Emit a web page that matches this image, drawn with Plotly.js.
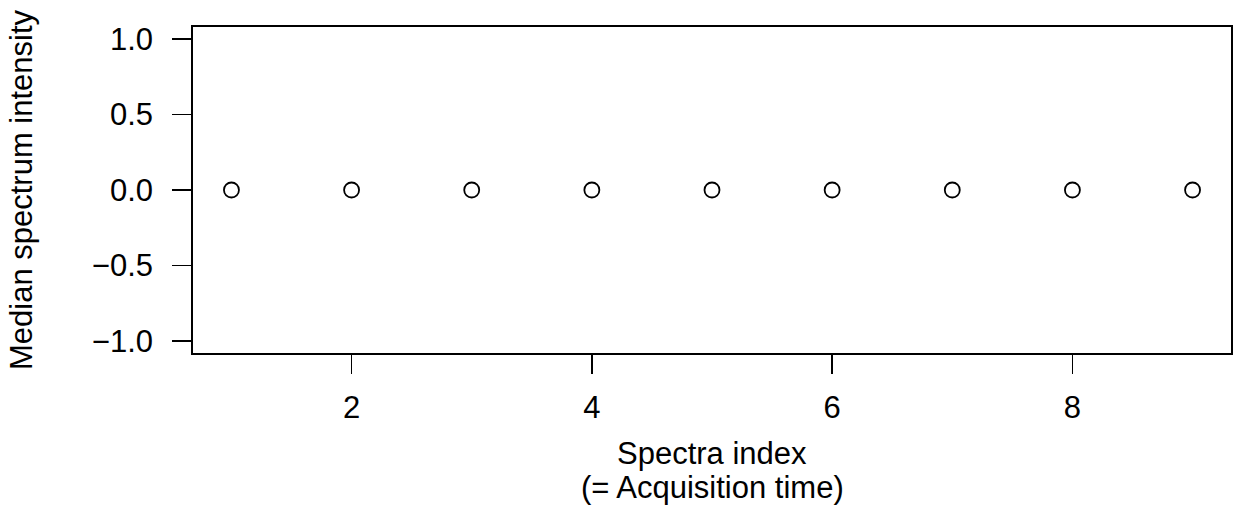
<!DOCTYPE html>
<html>
<head>
<meta charset="utf-8">
<script src="https://cdn.plot.ly/plotly-3.0.1.min.js"></script>
<style>html,body{margin:0;padding:0;background:#fff;}#plot{width:1238px;height:508px;}</style>
</head>
<body>
<div id="plot"></div>
<script>
const spectraIndex = [1, 2, 3, 4, 5, 6, 7, 8, 9];
const medianIntensity = [0, 0, 0, 0, 0, 0, 0, 0, 0];
const xTickVals = [2, 4, 6, 8];
const yTickVals = [-1.0, -0.5, 0.0, 0.5, 1.0];
const yTickText = ['\u22121.0', '\u22120.5', '0.0', '0.5', '1.0'];
const xTitleLines = ['Spectra index', '(= Acquisition time)'];
const yTitle = 'Median spectrum intensity';

const font = {family: 'Liberation Sans, Arial, sans-serif', size: 31, color: '#000'};

const trace = {
  x: spectraIndex,
  y: medianIntensity,
  type: 'scatter',
  mode: 'markers',
  marker: {symbol: 'circle-open', size: 15, color: '#000', line: {width: 1.8, color: '#000'}},
  hoverinfo: 'none'
};

const layout = {
  width: 1238, height: 508,
  margin: {l: 193, r: 7, t: 27, b: 155},
  paper_bgcolor: '#fff', plot_bgcolor: '#fff',
  font: font,
  showlegend: false,
  xaxis: {
    range: [0.68, 9.32],
    tickvals: xTickVals,
    ticktext: xTickVals.map(String),
    ticks: 'outside', ticklen: 19, tickwidth: 1.8, tickcolor: '#000',
    showline: true, mirror: true, linecolor: '#000', linewidth: 1.8,
    showgrid: false, zeroline: false,
    tickfont: font,
    ticklabelstandoff: 7
  },
  yaxis: {
    range: [-1.08, 1.08],
    tickvals: yTickVals,
    ticktext: yTickText,
    ticks: 'outside', ticklen: 19, tickwidth: 1.8, tickcolor: '#000',
    showline: true, mirror: true, linecolor: '#000', linewidth: 1.8,
    showgrid: false, zeroline: false,
    tickfont: font,
    ticklabelstandoff: 13,
    title: {text: yTitle, font: font, standoff: 50}
  },
  annotations: [
    {text: xTitleLines[0], xref: 'paper', yref: 'paper', x: 0.5, y: 0, xanchor: 'center', yanchor: 'top', yshift: -81, showarrow: false, font: font},
    {text: xTitleLines[1], xref: 'paper', yref: 'paper', x: 0.5, y: 0, xanchor: 'center', yanchor: 'top', yshift: -115, showarrow: false, font: font}
  ]
};

Plotly.newPlot('plot', [trace], layout, {staticPlot: true, displayModeBar: false});
</script>
</body>
</html>
